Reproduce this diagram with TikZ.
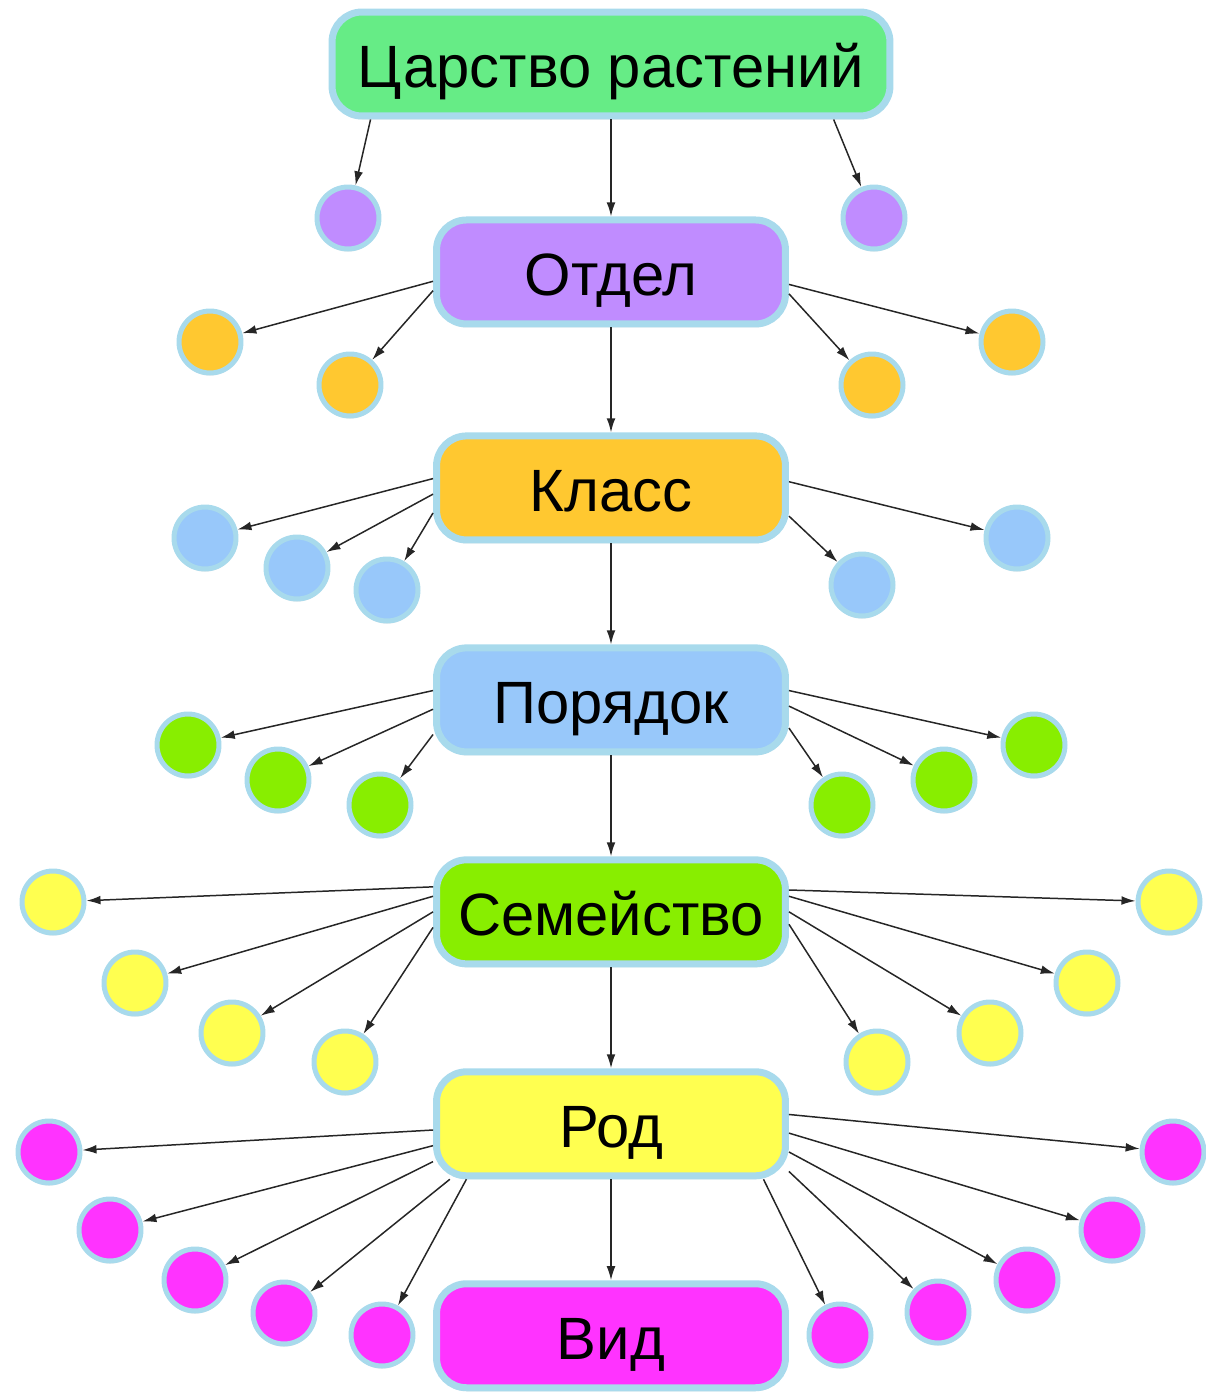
\documentclass[tikz,border=0pt]{standalone}
\usepackage{fontspec}
\setmainfont{Liberation Sans}
\usetikzlibrary{positioning,arrows.meta,shadows}
\definecolor{myring}{RGB}{168,218,236}
\definecolor{mygreen}{RGB}{102,236,134}
\definecolor{mypurple}{RGB}{192,140,255}
\definecolor{myorange}{RGB}{255,200,48}
\definecolor{myblue}{RGB}{152,200,250}
\definecolor{mylime}{RGB}{136,238,0}
\definecolor{myyellow}{RGB}{255,255,80}
\definecolor{mymagenta}{RGB}{255,51,255}

\begin{document}
\begin{tikzpicture}[x=0.02cm,y=-0.02cm,
  rank/.style={draw=myring,line width=0.14cm,rounded corners=0.6cm,
    minimum width=6.98cm,minimum height=2.08cm,inner sep=0pt,
    font=\fontsize{34}{38}\selectfont,text height=27pt,text depth=0pt,
    drop shadow={opacity=0.18,shadow xshift=0pt,shadow yshift=-2pt}},
  leaf/.style={circle,draw=myring,line width=0.1cm,minimum size=1.24cm,inner sep=0pt,
    drop shadow={opacity=0.15,shadow xshift=0pt,shadow yshift=-1.5pt}},
  arr/.style={-{Latex[length=8pt,width=5pt]},line width=0.85pt,draw=black!85}]

  \useasboundingbox (0,0) rectangle (1205,1394);

  % main column
  \node[rank,fill=mygreen,minimum width=11.16cm] (tsar) at (611,64) {Царство растений};
  \node[rank,fill=mypurple,below=1.94cm of tsar] (otdel) {Отдел};
  \node[rank,fill=myorange,below=2.1cm of otdel] (klass) {Класс};
  \node[rank,fill=myblue,below=2.02cm of klass] (poryadok) {Порядок};
  \node[rank,fill=mylime,below=2.02cm of poryadok] (semeystvo) {Семейство};
  \node[rank,fill=myyellow,below=2.02cm of semeystvo] (rod) {Род};
  \node[rank,fill=mymagenta,below=2.02cm of rod] (vid) {Вид};

  % other divisions
  \node[leaf,fill=mypurple] (otd1) at (348,218) {};
  \node[leaf,fill=mypurple] (otd2) at (874,218) {};

  % other classes
  \node[leaf,fill=myorange] (kl1) at (210,342) {};
  \node[leaf,fill=myorange] (kl2) at (350,385) {};
  \node[leaf,fill=myorange] (kl3) at (872,385) {};
  \node[leaf,fill=myorange] (kl4) at (1012,342) {};

  % other orders
  \node[leaf,fill=myblue] (por1) at (205,538) {};
  \node[leaf,fill=myblue] (por2) at (297,568) {};
  \node[leaf,fill=myblue] (por3) at (387,590) {};
  \node[leaf,fill=myblue] (por4) at (862,585) {};
  \node[leaf,fill=myblue] (por5) at (1017,538) {};

  % other families
  \node[leaf,fill=mylime] (sem1) at (188,745) {};
  \node[leaf,fill=mylime] (sem2) at (278,780) {};
  \node[leaf,fill=mylime] (sem3) at (380,805) {};
  \node[leaf,fill=mylime] (sem4) at (842,805) {};
  \node[leaf,fill=mylime] (sem5) at (944,780) {};
  \node[leaf,fill=mylime] (sem6) at (1034,745) {};

  % other genera
  \node[leaf,fill=myyellow] (rod1) at (53,902) {};
  \node[leaf,fill=myyellow] (rod2) at (135,983) {};
  \node[leaf,fill=myyellow] (rod3) at (232,1033) {};
  \node[leaf,fill=myyellow] (rod4) at (345,1062) {};
  \node[leaf,fill=myyellow] (rod5) at (877,1062) {};
  \node[leaf,fill=myyellow] (rod6) at (990,1033) {};
  \node[leaf,fill=myyellow] (rod7) at (1087,983) {};
  \node[leaf,fill=myyellow] (rod8) at (1169,902) {};

  % other species
  \node[leaf,fill=mymagenta] (vid1) at (49,1152) {};
  \node[leaf,fill=mymagenta] (vid2) at (110,1230) {};
  \node[leaf,fill=mymagenta] (vid3) at (195,1280) {};
  \node[leaf,fill=mymagenta] (vid4) at (284,1313) {};
  \node[leaf,fill=mymagenta] (vid5) at (382,1335) {};
  \node[leaf,fill=mymagenta] (vid6) at (840,1335) {};
  \node[leaf,fill=mymagenta] (vid7) at (938,1312) {};
  \node[leaf,fill=mymagenta] (vid8) at (1027,1280) {};
  \node[leaf,fill=mymagenta] (vid9) at (1112,1230) {};
  \node[leaf,fill=mymagenta] (vid10) at (1173,1152) {};

  % arrows down the column
  \draw (tsar) edge[arr] (otdel) (otdel) edge[arr] (klass) (klass) edge[arr] (poryadok)
   (poryadok) edge[arr] (semeystvo) (semeystvo) edge[arr] (rod) (rod) edge[arr] (vid);

  % fans to the sides
  \draw (tsar.193) edge[arr] (otd1) (tsar.346) edge[arr] (otd2);
  \draw (otdel.183.5) edge[arr] (kl1) (otdel.186.5) edge[arr] (kl2)
   (otdel.353.5) edge[arr] (kl3) (otdel.356.5) edge[arr] (kl4);
  \draw (klass.177.5) edge[arr] (por1) (klass.182.5) edge[arr] (por2) (klass.188) edge[arr] (por3)
   (klass.351.5) edge[arr] (por4) (klass.2.5) edge[arr] (por5);
  \draw (poryadok.177) edge[arr] (sem1) (poryadok.183) edge[arr] (sem2) (poryadok.191.5) edge[arr] (sem3)
   (poryadok.351.5) edge[arr] (sem4) (poryadok.358) edge[arr] (sem5) (poryadok.3) edge[arr] (sem6);
  \draw (semeystvo.172.5) edge[arr] (rod1) (semeystvo.175.5) edge[arr] (rod2)
   (semeystvo.180.5) edge[arr] (rod3) (semeystvo.185) edge[arr] (rod4)
   (semeystvo.356) edge[arr] (rod5) (semeystvo.0) edge[arr] (rod6)
   (semeystvo.5) edge[arr] (rod7) (semeystvo.7.5) edge[arr] (rod8);
  \draw (rod.182) edge[arr] (vid1) (rod.187.5) edge[arr] (vid2) (rod.192.5) edge[arr] (vid3)
   (rod.199) edge[arr] (vid4) (rod.201) edge[arr] (vid5)
   (rod.340.5) edge[arr] (vid6) (rod.345) edge[arr] (vid7) (rod.351.5) edge[arr] (vid8)
   (rod.357) edge[arr] (vid9) (rod.3) edge[arr] (vid10);
\end{tikzpicture}
\end{document}
